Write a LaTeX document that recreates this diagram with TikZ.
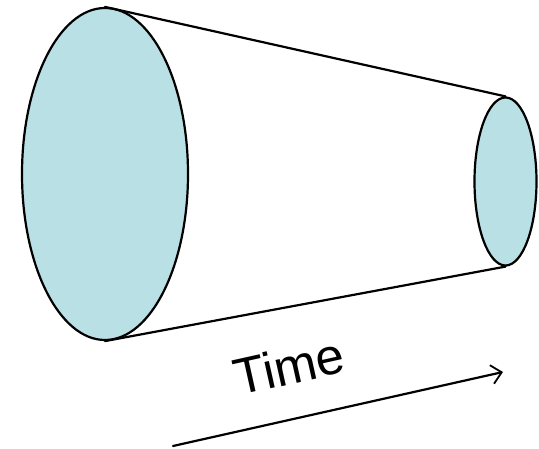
\documentclass[tikz,border=0pt]{standalone}
\usepackage{fontspec}
\setmainfont{Liberation Sans}
\usetikzlibrary{shapes.geometric,arrows.meta}
\definecolor{cylfill}{RGB}{185,224,228}
\tikzset{
  face/.style={ellipse, draw, fill=cylfill, inner sep=0pt, line width=2.2pt},
}
\begin{document}
\begin{tikzpicture}[x=1pt, y=-1pt, >={Straight Barb[length=10pt,width=19pt,line width=1.8pt]}, line join=round, line cap=round]
	\useasboundingbox (0,0) rectangle (539,449);
	\node[face, minimum width=166pt, minimum height=332pt] (big) at (105,174) {};
	\node[face, minimum width=62pt, minimum height=168pt] (small) at (505.5,181.5) {};
	\draw[line width=2.2pt] (big.north) -- (small.north);
	\draw[line width=2.2pt] (big.south) -- (small.south);
	% Zeitpfeil
	\coordinate (t0) at (173,446);
	\coordinate (t1) at (503,372);
	\draw[->, line width=2.2pt] (t0) -- (t1);
	\node[rotate=12.6, font=\fontsize{51}{52}\selectfont] (time) at (289,366) {Time};
\end{tikzpicture}
\end{document}
